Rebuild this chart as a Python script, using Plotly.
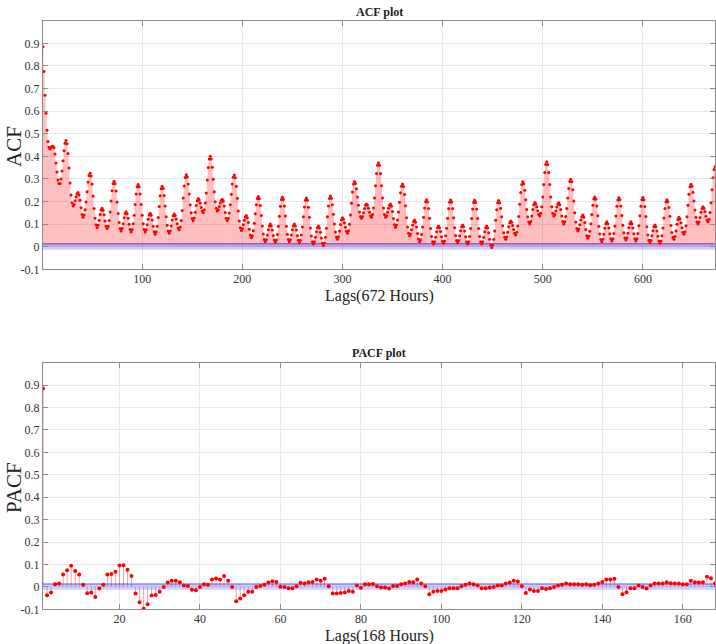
import plotly.graph_objects as go

# ---------------- data ----------------
acf_week1 = [
    0.885, 0.775, 0.670, 0.590, 0.515, 0.465, 0.440, 0.432, 0.438, 0.445, 0.445, 0.438, 0.410, 0.370, 0.330, 0.295, 0.280, 0.280, 0.300, 0.335, 0.380, 0.425, 0.458, 0.470,
    0.456, 0.412, 0.348, 0.282, 0.229, 0.194, 0.180, 0.187, 0.203, 0.221, 0.234, 0.240, 0.229, 0.205, 0.172, 0.143, 0.130, 0.140, 0.163, 0.198, 0.243, 0.286, 0.315, 0.325,
    0.313, 0.277, 0.224, 0.169, 0.126, 0.097, 0.085, 0.095, 0.117, 0.143, 0.162, 0.170, 0.161, 0.141, 0.114, 0.091, 0.080, 0.091, 0.116, 0.154, 0.202, 0.248, 0.280, 0.290,
    0.279, 0.246, 0.198, 0.147, 0.107, 0.081, 0.070, 0.080, 0.102, 0.128, 0.147, 0.155, 0.146, 0.126, 0.099, 0.076, 0.065, 0.076, 0.101, 0.139, 0.187, 0.233, 0.265, 0.275,
    0.265, 0.233, 0.187, 0.139, 0.101, 0.076, 0.065, 0.075, 0.097, 0.121, 0.140, 0.148, 0.139, 0.118, 0.090, 0.066, 0.055, 0.066, 0.091, 0.129, 0.178, 0.225, 0.256, 0.267,
    0.257, 0.226, 0.180, 0.132, 0.095, 0.070, 0.060, 0.070, 0.092, 0.118, 0.137, 0.145, 0.138, 0.123, 0.102, 0.083, 0.075, 0.087, 0.116, 0.160, 0.216, 0.269, 0.306, 0.318,
    0.308, 0.277, 0.233, 0.186, 0.150, 0.125, 0.115, 0.127, 0.152, 0.182, 0.203, 0.213, 0.207, 0.193, 0.174, 0.158, 0.150, 0.163, 0.193, 0.238, 0.295, 0.350, 0.388, 0.400,
]
acf_week2 = [
    0.388, 0.352, 0.298, 0.243, 0.199, 0.170, 0.158, 0.164, 0.178, 0.193, 0.205, 0.210, 0.201, 0.180, 0.151, 0.126, 0.115, 0.125, 0.149, 0.186, 0.232, 0.277, 0.307, 0.317,
    0.305, 0.268, 0.214, 0.158, 0.114, 0.084, 0.072, 0.080, 0.097, 0.117, 0.131, 0.138, 0.128, 0.107, 0.077, 0.052, 0.040, 0.049, 0.071, 0.104, 0.146, 0.186, 0.213, 0.222,
    0.212, 0.182, 0.138, 0.092, 0.056, 0.032, 0.022, 0.031, 0.052, 0.075, 0.092, 0.100, 0.092, 0.074, 0.050, 0.030, 0.020, 0.030, 0.054, 0.090, 0.135, 0.179, 0.209, 0.219,
    0.209, 0.180, 0.136, 0.091, 0.055, 0.032, 0.022, 0.031, 0.052, 0.075, 0.092, 0.100, 0.092, 0.074, 0.049, 0.028, 0.018, 0.028, 0.052, 0.087, 0.133, 0.176, 0.206, 0.216,
    0.206, 0.175, 0.130, 0.083, 0.047, 0.022, 0.012, 0.022, 0.042, 0.066, 0.084, 0.092, 0.083, 0.064, 0.038, 0.015, 0.005, 0.016, 0.042, 0.082, 0.132, 0.180, 0.213, 0.224,
    0.214, 0.186, 0.144, 0.100, 0.065, 0.043, 0.033, 0.044, 0.069, 0.098, 0.119, 0.128, 0.121, 0.106, 0.086, 0.068, 0.060, 0.071, 0.099, 0.140, 0.192, 0.242, 0.277, 0.288,
    0.280, 0.256, 0.220, 0.183, 0.154, 0.134, 0.126, 0.134, 0.150, 0.169, 0.183, 0.189, 0.183, 0.170, 0.152, 0.137, 0.130, 0.142, 0.171, 0.215, 0.270, 0.324, 0.360, 0.372,
]
acf_week3 = [
    0.360, 0.324, 0.270, 0.215, 0.171, 0.142, 0.130, 0.137, 0.152, 0.170, 0.183, 0.189, 0.179, 0.156, 0.125, 0.098, 0.086, 0.096, 0.118, 0.153, 0.197, 0.239, 0.267, 0.277,
    0.266, 0.231, 0.181, 0.128, 0.087, 0.059, 0.048, 0.056, 0.075, 0.096, 0.111, 0.118, 0.108, 0.087, 0.058, 0.034, 0.022, 0.031, 0.054, 0.087, 0.130, 0.171, 0.199, 0.208,
    0.198, 0.169, 0.126, 0.081, 0.045, 0.022, 0.012, 0.022, 0.042, 0.066, 0.084, 0.092, 0.084, 0.067, 0.044, 0.024, 0.015, 0.025, 0.048, 0.082, 0.126, 0.169, 0.197, 0.207,
    0.198, 0.169, 0.128, 0.084, 0.050, 0.027, 0.018, 0.027, 0.048, 0.071, 0.088, 0.096, 0.088, 0.069, 0.044, 0.022, 0.012, 0.022, 0.045, 0.080, 0.125, 0.167, 0.196, 0.206,
    0.196, 0.167, 0.125, 0.080, 0.045, 0.022, 0.012, 0.022, 0.042, 0.066, 0.084, 0.092, 0.083, 0.062, 0.033, 0.008, -0.003, 0.007, 0.032, 0.069, 0.117, 0.163, 0.194, 0.204,
    0.195, 0.170, 0.132, 0.093, 0.062, 0.042, 0.033, 0.043, 0.064, 0.088, 0.106, 0.114, 0.108, 0.094, 0.076, 0.059, 0.052, 0.064, 0.092, 0.134, 0.188, 0.240, 0.275, 0.287,
    0.278, 0.250, 0.208, 0.165, 0.132, 0.109, 0.100, 0.112, 0.136, 0.165, 0.186, 0.196, 0.190, 0.177, 0.159, 0.143, 0.136, 0.148, 0.177, 0.220, 0.275, 0.328, 0.364, 0.376,
]
acf_week4 = [
    0.364, 0.328, 0.275, 0.220, 0.177, 0.148, 0.136, 0.143, 0.158, 0.176, 0.189, 0.195, 0.186, 0.165, 0.136, 0.111, 0.100, 0.110, 0.134, 0.169, 0.215, 0.258, 0.288, 0.298,
    0.287, 0.252, 0.202, 0.150, 0.109, 0.081, 0.070, 0.078, 0.097, 0.118, 0.133, 0.140, 0.130, 0.107, 0.076, 0.049, 0.037, 0.046, 0.068, 0.101, 0.143, 0.183, 0.211, 0.220,
    0.210, 0.180, 0.137, 0.091, 0.056, 0.032, 0.022, 0.033, 0.055, 0.082, 0.101, 0.110, 0.102, 0.083, 0.057, 0.035, 0.025, 0.035, 0.058, 0.092, 0.136, 0.179, 0.207, 0.217,
    0.208, 0.180, 0.138, 0.095, 0.062, 0.039, 0.030, 0.040, 0.060, 0.084, 0.102, 0.110, 0.102, 0.083, 0.057, 0.035, 0.025, 0.035, 0.058, 0.093, 0.137, 0.179, 0.208, 0.218,
    0.208, 0.178, 0.134, 0.088, 0.052, 0.028, 0.018, 0.027, 0.048, 0.071, 0.088, 0.096, 0.088, 0.070, 0.046, 0.025, 0.015, 0.025, 0.048, 0.083, 0.127, 0.169, 0.198, 0.208,
    0.199, 0.173, 0.135, 0.094, 0.063, 0.042, 0.033, 0.045, 0.070, 0.099, 0.120, 0.130, 0.123, 0.106, 0.084, 0.064, 0.055, 0.066, 0.093, 0.132, 0.183, 0.232, 0.265, 0.276,
    0.267, 0.241, 0.202, 0.162, 0.130, 0.109, 0.100, 0.109, 0.129, 0.152, 0.169, 0.177, 0.170, 0.156, 0.135, 0.118, 0.110, 0.122, 0.151, 0.195, 0.252, 0.305, 0.342, 0.354,
]

pacf_values = [
    0.885, -0.037, -0.025, 0.012, 0.015, 0.055, 0.074, 0.094, 0.071, 0.055,
    0.010, -0.028, -0.025, -0.045, -0.007, 0.010, 0.055, 0.057, 0.067, 0.095,
    0.097, 0.076, 0.048, -0.030, -0.068, -0.097, -0.077, -0.039, -0.036, -0.022,
    -0.001, 0.019, 0.027, 0.027, 0.021, 0.006, 0.004, -0.013, -0.015, -0.001,
    0.012, 0.009, 0.033, 0.037, 0.033, 0.048, 0.027, -0.001, -0.064, -0.052,
    -0.037, -0.022, -0.022, 0.000, 0.004, 0.009, 0.019, 0.025, 0.022, 0.001,
    -0.001, -0.006, -0.006, 0.003, 0.018, 0.015, 0.021, 0.022, 0.033, 0.027,
    0.036, 0.003, -0.030, -0.030, -0.027, -0.025, -0.018, -0.022, 0.006, -0.004,
    0.012, 0.012, 0.013, 0.003, -0.003, -0.003, -0.007, 0.004, 0.004, 0.012,
    0.015, 0.022, 0.021, 0.033, 0.015, 0.003, -0.033, -0.022, -0.018, -0.018,
    -0.012, -0.006, -0.006, -0.006, 0.003, 0.009, 0.015, 0.012, 0.006, -0.006,
    -0.006, -0.003, 0.000, 0.006, 0.006, 0.015, 0.019, 0.027, 0.024, 0.003,
    -0.027, -0.012, -0.018, -0.018, -0.006, -0.010, -0.006, -0.001, 0.006, 0.009,
    0.015, 0.012, 0.012, 0.012, 0.009, 0.012, 0.007, 0.009, 0.015, 0.022,
    0.033, 0.033, 0.036, 0.000, -0.033, -0.024, -0.006, -0.006, 0.006, 0.000,
    -0.007, 0.006, 0.015, 0.015, 0.015, 0.021, 0.016, 0.015, 0.015, 0.012,
    0.012, 0.027, 0.021, 0.019, 0.021, 0.045, 0.039, 0.015,
]

conf_bound = 0.013
y_tickvals = [-0.1, 0.0, 0.1, 0.2, 0.3, 0.4, 0.5, 0.6, 0.7, 0.8, 0.9]
y_ticktext = ["-0.1", "0", "0.1", "0.2", "0.3", "0.4", "0.5", "0.6", "0.7", "0.8", "0.9"]
acf_xticks = [100, 200, 300, 400, 500, 600]
pacf_xticks = [20, 40, 60, 80, 100, 120, 140, 160]

acf_values = acf_week1 + acf_week2 + acf_week3 + acf_week4
acf_lags = list(range(1, len(acf_values) + 1))
pacf_lags = list(range(1, len(pacf_values) + 1))

# ---------------- styling ----------------
SERIF = "Liberation Serif, Times New Roman, serif"
DOT_COLOR = "#ff0000"
BAND_FILL = "rgba(70,70,255,0.26)"
BAND_LINE = "rgba(40,40,230,0.75)"


def stems(lags, vals):
    xs, ys = [], []
    for l, v in zip(lags, vals):
        xs += [l, l, None]
        ys += [0, v, None]
    return xs, ys


fig = go.Figure()


def add_panel(lags, vals, xa, ya, dot_size, stem_color, stem_width):
    sx, sy = stems(lags, vals)
    fig.add_trace(go.Scatter(x=sx, y=sy, mode="lines",
                             line=dict(color=stem_color, width=stem_width),
                             xaxis=xa, yaxis=ya, hoverinfo="skip", showlegend=False))
    x0, x1 = lags[0], lags[-1]
    fig.add_trace(go.Scatter(x=[x0, x1, x1, x0, x0],
                             y=[-conf_bound, -conf_bound, conf_bound, conf_bound, -conf_bound],
                             mode="lines", fill="toself", fillcolor=BAND_FILL,
                             line=dict(width=0), xaxis=xa, yaxis=ya,
                             hoverinfo="skip", showlegend=False))
    fig.add_trace(go.Scatter(x=[x0, x1], y=[conf_bound, conf_bound], mode="lines",
                             line=dict(color=BAND_LINE, width=1),
                             xaxis=xa, yaxis=ya, hoverinfo="skip", showlegend=False))
    fig.add_trace(go.Scatter(x=lags, y=vals, mode="markers",
                             marker=dict(color=DOT_COLOR, size=dot_size, line=dict(width=0)),
                             xaxis=xa, yaxis=ya, showlegend=False))


add_panel(acf_lags, acf_values, "x", "y", 3.0, "rgba(255,0,0,0.45)", 0.6)
add_panel(pacf_lags, pacf_values, "x2", "y2", 4, "rgba(255,0,0,0.38)", 1)

H = 644.0
axis_common = dict(
    showgrid=True, gridcolor="#e8e8e8", gridwidth=1,
    showline=True, linecolor="#8c8c8c", linewidth=1, mirror="ticks",
    ticks="inside", ticklen=5, tickcolor="#8c8c8c",
    tickfont=dict(family=SERIF, size=12, color="#333333"),
    zeroline=False, automargin=False,
)

fig.update_layout(
    width=716, height=644,
    margin=dict(l=43, r=1, t=0, b=0, autoexpand=False),
    paper_bgcolor="white", plot_bgcolor="white",
    showlegend=False,
    xaxis=dict(domain=[0, 1], range=[1, 672], tickvals=acf_xticks, anchor="y",
               ticklabelstandoff=-2, **axis_common),
    yaxis=dict(domain=[1 - 269.3 / H, 1 - 20.7 / H], range=[-0.1, 1.0],
               tickvals=y_tickvals, ticktext=y_ticktext, anchor="x", **axis_common),
    xaxis2=dict(domain=[0, 1], range=[1, 168], tickvals=pacf_xticks, anchor="y2",
                ticklabelstandoff=-2, **axis_common),
    yaxis2=dict(domain=[1 - 609.3 / H, 1 - 362.7 / H], range=[-0.1, 1.0],
                tickvals=y_tickvals, ticktext=y_ticktext, anchor="x2", **axis_common),
)


# paper coords are relative to plot area; convert pixel positions via margins
def px_ann(text, px, py, size, bold=False, angle=0):
    fx = (px - 43) / (716 - 43 - 1)
    fy = 1 - py / H
    fig.add_annotation(text=("<b>%s</b>" % text) if bold else text,
                       x=fx, y=fy, xref="paper", yref="paper",
                       xanchor="center", yanchor="middle", showarrow=False,
                       textangle=angle, font=dict(family=SERIF, size=size, color="#222222"))


px_ann("ACF plot", 379, 12, 12, bold=True)
px_ann("Lags(672 Hours)", 379, 296, 16)
px_ann("ACF", 14, 147, 21, angle=-90)
px_ann("PACF plot", 379, 353, 12, bold=True)
px_ann("Lags(168 Hours)", 379, 636, 16)
px_ann("PACF", 14, 488, 21, angle=-90)

fig.write_html("out.html", config={"displayModeBar": False})

# remove default page margin so the figure sits at the window's top-left corner
with open("out.html", "r", encoding="utf-8") as f:
    html = f.read()
html = html.replace("<head>", "<head><style>html,body{margin:0;padding:0;overflow:hidden;}</style>", 1)
with open("out.html", "w", encoding="utf-8") as f:
    f.write(html)
